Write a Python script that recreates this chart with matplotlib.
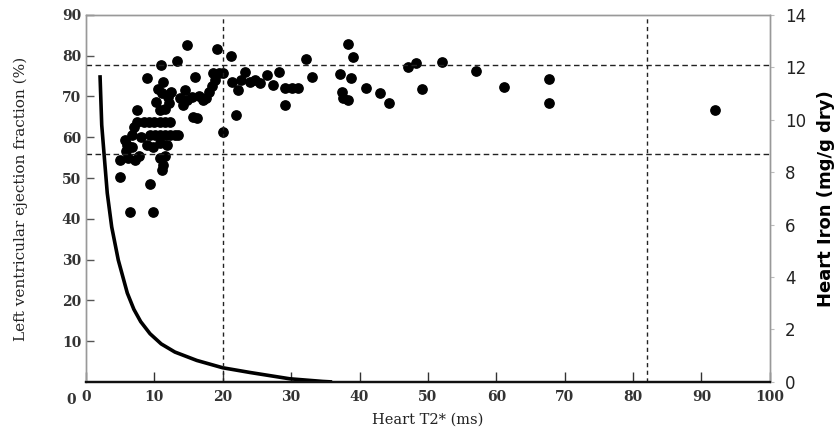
import matplotlib
matplotlib.use("Agg")
import matplotlib.pyplot as plt

# scatter: heart T2* (ms) vs LVEF (%)
t2_ms = [5.0, 5.0, 6.2, 7.2, 5.8, 6.0, 5.7, 6.7, 6.8, 7.0, 7.4, 7.4, 6.4, 8.0, 7.8,
         9.8, 9.3, 8.9, 8.9, 9.8, 10.8, 11.8, 10.8, 11.3, 11.1, 11.6,
         9.4, 10.1, 10.8, 11.5, 12.3, 13.0, 13.5,
         8.5, 9.2, 10.0, 10.8, 11.5, 12.3,
         10.8, 10.3, 11.1, 12.0, 10.6, 11.3, 10.9, 13.3, 12.2, 11.5, 12.5,
         14.7, 14.5, 13.7, 14.7, 15.5, 14.2, 15.7, 16.3, 15.9, 17.1, 17.6, 18.0,
         18.5, 18.8, 18.6, 19.4, 20.1, 19.1, 21.2, 20.1, 16.5,
         21.3, 22.3, 22.7, 22.0, 23.2, 24.0, 24.7, 25.4, 26.4, 27.3, 28.2,
         29.1, 30.1, 31.0, 29.1, 32.2, 33.1, 37.1, 37.4, 37.6, 38.3, 38.8,
         38.3, 39.1, 41.0, 43.0, 44.3,
         47.1, 48.2, 49.1, 52.0, 57.1, 61.2, 67.7, 67.7, 92.0]
lvef = [50.3, 54.4, 54.8, 54.4, 56.5, 58.1, 59.3, 57.7, 60.5, 62.5, 63.8, 66.7, 41.7, 60.0, 55.5,
        41.7, 48.5, 74.4, 58.1, 57.7, 58.5, 58.1, 54.8, 53.2, 52.0, 55.5,
        60.5, 60.5, 60.5, 60.5, 60.5, 60.5, 60.5,
        63.8, 63.8, 63.8, 63.8, 63.8, 63.8,
        66.7, 68.7, 70.8, 69.9, 71.9, 73.6, 77.7, 78.8, 68.5, 67.0, 71.0,
        82.5, 71.6, 69.5, 69.1, 69.9, 67.9, 65.0, 64.6, 74.8, 69.1, 69.5, 71.0,
        72.5, 74.0, 75.8, 75.8, 75.8, 81.7, 79.8, 61.3, 70.0,
        73.6, 71.6, 74.0, 65.4, 76.1, 73.6, 74.0, 73.2, 75.2, 72.8, 76.1,
        72.0, 72.0, 72.0, 67.8, 79.1, 74.8, 75.6, 71.2, 69.5, 69.1, 74.4,
        82.8, 79.7, 72.1, 70.8, 68.5,
        77.3, 78.3, 71.9, 78.4, 76.3, 72.4, 74.2, 68.3, 66.7]

# curve: heart T2* (ms) vs heart iron (mg/g dry)
curve_t2 = [2.05, 2.3, 2.63, 3.11, 3.76, 4.72, 6.04, 7.0, 8.0, 9.36, 11.0, 13.0,
            16.2, 20.0, 24.0, 29.8, 34.6, 36.0]
curve_iron = [11.70, 9.80, 8.73, 7.20, 5.91, 4.65, 3.39, 2.77, 2.30, 1.84, 1.45, 1.14,
              0.82, 0.54, 0.36, 0.12, 0.02, 0.0]

# threshold lines
vlines_t2 = [20, 82]
hlines_iron = [12.1, 8.7]

fig = plt.figure(figsize=(8.39, 4.37), dpi=100)
ax = fig.add_axes([0.1025, 0.126, 0.815, 0.84])
ax2 = ax.twinx()

serif = "DejaVu Serif"

ax.scatter(t2_ms, lvef, s=45, color="black", zorder=3)
ax.set_xlim(0, 100)
ax.set_ylim(0, 90)
ax.set_xticks(range(0, 101, 10))
ax.set_yticks(range(10, 91, 10))
ax.tick_params(axis="both", direction="in", length=7, width=1, labelsize=10, colors="#333333")
ax.tick_params(axis="x", pad=6)
ax.tick_params(axis="y", length=6, color="#555555")
for lbl in ax.get_xticklabels() + ax.get_yticklabels():
    lbl.set_family(serif)
    lbl.set_fontweight("bold")
ax.set_xlabel("Heart T2* (ms)", family=serif, fontsize=10.5, color="#222222", labelpad=6)
ax.set_ylabel("Left ventricular ejection fraction (%)", family=serif, fontsize=11,
              color="#222222", labelpad=24)
ax.text(-1.5, -2.8, "0", family=serif, fontweight="bold", fontsize=10,
        color="#333333", ha="right", va="top", transform=ax.transData)

ax2.plot(curve_t2, curve_iron, color="black", lw=2.6, solid_joinstyle="round",
         solid_capstyle="butt")
for v in vlines_t2:
    ax2.axvline(v, color="#222222", lw=1, ls=(0, (3, 2.5)))
for h in hlines_iron:
    ax2.axhline(h, color="#222222", lw=1, ls=(0, (4, 2.5)))
ax2.set_ylim(0, 14)
ax2.set_yticks(range(0, 15, 2))
ax2.tick_params(axis="y", direction="out", length=3, pad=8, labelsize=12, colors="#222222")
ax2.tick_params(axis="y", color="#bbbbbb")
ax2.set_ylabel("Heart Iron (mg/g dry)", fontsize=13, fontweight="bold", labelpad=8)

for a in (ax, ax2):
    for side in ("left", "right", "top"):
        a.spines[side].set_color("#999999")
        a.spines[side].set_linewidth(1)
    a.spines["bottom"].set_color("#111111")
    a.spines["bottom"].set_linewidth(1.6)

fig.savefig("out.png", dpi=100, facecolor="white")
